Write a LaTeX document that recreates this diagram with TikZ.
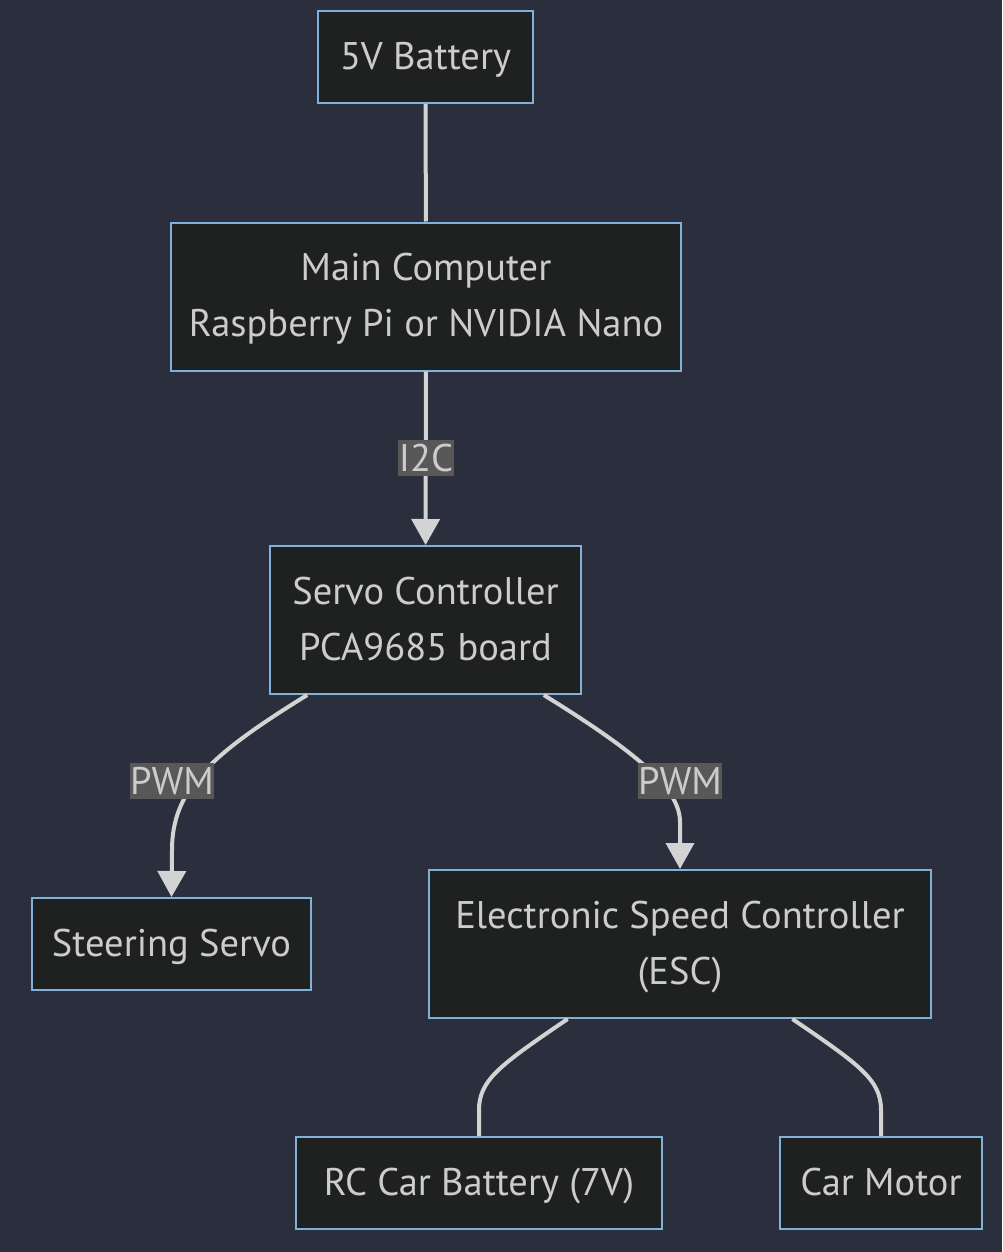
\documentclass[tikz,border=0pt]{standalone}
\usepackage{fontspec}
\setmainfont{PT Sans}
\usepackage{tikz}
\usetikzlibrary{positioning,arrows.meta,calc}
\definecolor{canvasbg}{HTML}{2B2F3D}
\definecolor{boxfill}{HTML}{1F2020}
\definecolor{boxline}{HTML}{81B1DB}
\definecolor{wirecol}{HTML}{D3D3D3}
\definecolor{labeltext}{HTML}{CCCCCC}
\definecolor{tagfill}{HTML}{585858}
\tikzset{
  flowarrow/.style={-{Triangle[length=26pt,width=28pt]}, line width=4pt, draw=wirecol},
  plainwire/.style={line width=4pt, draw=wirecol},
  partbox/.style={draw=boxline, line width=2pt, fill=boxfill, text=labeltext, align=center, inner sep=0pt, font=\fontsize{38.5}{56}\selectfont},
  oneline/.style={partbox, text height=34pt, text depth=9pt, minimum height=92pt},
  twoline/.style={partbox, text height=89pt, text depth=9pt, minimum height=148pt},
  wiretag/.style={fill=tagfill, text=labeltext, inner xsep=0.5pt, inner ysep=4.5pt, font=\fontsize{38.5}{44}\selectfont}
}

\begin{document}
\begin{tikzpicture}[x=1pt, y=-1pt]
  \fill[canvasbg] (0,0) rectangle (1002,1252);
  \useasboundingbox (0,0) rectangle (1002,1252);

  % parts
  \node[oneline, minimum width=215pt] (batt5) at (425.5,57) {5V Battery};
  \node[twoline, minimum width=510pt] (maincpu) at (426,296.5) {Main Computer\\Raspberry Pi or NVIDIA Nano};
  \node[twoline, minimum width=311pt] (servoctl) at (425.5,620) {Servo Controller\\PCA9685 board};
  \node[oneline, minimum width=279pt] (steer) at (171.5,944) {Steering Servo};
  \node[twoline, minimum width=502pt] (esc) at (680,944) {Electronic Speed Controller\\(ESC)};
  \node[oneline, minimum width=366pt] (rcbatt) at (479,1183) {RC Car Battery (7V)};
  \node[oneline, minimum width=202pt] (motor) at (881,1183) {Car Motor};

  % wires
  \draw[plainwire] (batt5) -- (maincpu);
  \draw[flowarrow] (maincpu) -- (servoctl);
  \draw[flowarrow] ($(servoctl.south west)!0.122!(servoctl.south east)$)
    .. controls (210,755) and (172,790) .. (172,850) -- (steer.north);
  \draw[flowarrow] ($(servoctl.south west)!0.878!(servoctl.south east)$)
    .. controls (641,755) and (680,790) .. (680,822) -- (esc.north);
  \draw[plainwire] ($(esc.south west)!0.277!(esc.south east)$)
    .. controls (500,1065) and (479,1080) .. (479,1110) -- (rcbatt.north);
  \draw[plainwire] ($(esc.south west)!0.723!(esc.south east)$)
    .. controls (860,1065) and (881,1080) .. (881,1110) -- (motor.north);

  % wire labels
  \node[wiretag] (tagi2c) at (426,458) {I2C};
  \node[wiretag] (tagsteer) at (172,781) {PWM};
  \node[wiretag] (tagesc) at (680,781) {PWM};
\end{tikzpicture}
\end{document}
